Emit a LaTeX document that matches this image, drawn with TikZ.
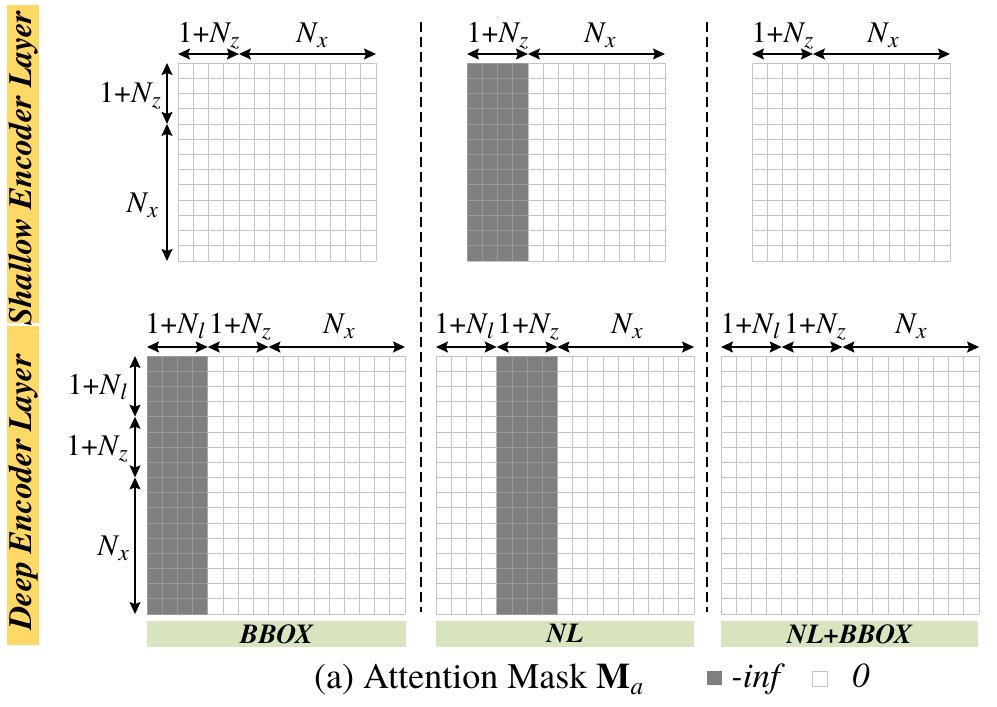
\documentclass[tikz,border=0pt]{standalone}
\usepackage{fontspec}
\setmainfont{texgyretermes}[Extension=.otf, UprightFont=*-regular, BoldFont=*-bold, ItalicFont=*-italic, BoldItalicFont=*-bolditalic]
\usetikzlibrary{arrows.meta}
\definecolor{ybar}{HTML}{FFD966}
\definecolor{gbar}{HTML}{D7E4BD}
\definecolor{darkc}{HTML}{7F7F7F}
\definecolor{gridc}{HTML}{C4C4C4}
\definecolor{gridd}{HTML}{9A9A9A}
\newcommand{\sbs}[1]{\raisebox{-5pt}{\fontsize{23}{25}\selectfont\textit{#1}}}
\newcommand{\NN}[1]{\textit{N}\kern-1pt\sbs{#1}}
\newcommand{\ON}[1]{1+\NN{#1}}
\tikzset{
  gridline/.style={draw=gridc, line width=0.8pt},
  darkline/.style={draw=gridd, line width=0.8pt},
  dimarrow/.style={line width=1.4pt, {Stealth[length=12pt,width=11pt,inset=2pt]}-{Stealth[length=12pt,width=11pt,inset=2pt]}},
  lab/.style={font=\fontsize{30}{34}\selectfont, inner sep=0pt},
  sidebar/.style={fill=ybar, draw=none},
  sidetext/.style={font=\fontsize{32.5}{36}\selectfont\bfseries\itshape, rotate=90, inner sep=0pt},
  condbar/.style={fill=gbar, draw=none},
  condtext/.style={font=\fontsize{27.5}{30}\selectfont\bfseries\itshape, inner sep=0pt},
  sepline/.style={line width=1.9pt, dash pattern=on 10pt off 5pt},
}
% #1 x0, #2 y0, #3 n, #4 first dark column, #5 number of dark columns, cell size in \cs
\newcommand{\maskgrid}[5]{%
  \ifnum#5>0
    \fill[darkc] ({#1+#4*\cs},#2) rectangle ({#1+(#4+#5)*\cs},{#2+#3*\cs});
  \fi
  \foreach \i in {0,...,#3}{%
    \draw[gridline] ({#1+\i*\cs},#2) -- ({#1+\i*\cs},{#2+#3*\cs});
    \draw[gridline] (#1,{#2+\i*\cs}) -- ({#1+#3*\cs},{#2+\i*\cs});
  }%
  \ifnum#5>0
    \begin{scope}
      \clip ({#1+#4*\cs},#2) rectangle ({#1+(#4+#5)*\cs},{#2+#3*\cs});
      \foreach \i in {0,...,#3}{%
        \draw[darkline] ({#1+\i*\cs},#2) -- ({#1+\i*\cs},{#2+#3*\cs});
        \draw[darkline] (#1,{#2+\i*\cs}) -- ({#1+#3*\cs},{#2+\i*\cs});
      }%
    \end{scope}
  \fi
}
\begin{document}
\begin{tikzpicture}[x=1pt,y=-1pt]
\useasboundingbox (0,0) rectangle (997,707);
\fill[white] (0,0) rectangle (997,707);

% side bars
\fill[sidebar] (7,5) rectangle (39,323);
\fill[sidebar] (7,326) rectangle (39,645);
\node[sidetext] (shallow) at (23,168) {Shallow Encoder Layer};
\node[sidetext] (deep) at (23,492) {Deep Encoder Layer};

% separators
\coordinate (s1t) at (421,22); \coordinate (s1b) at (421,612);
\coordinate (s2t) at (707,22); \coordinate (s2b) at (707,612);
\draw[sepline] (s1t) -- (s1b);
\draw[sepline] (s2t) -- (s2b);

% ---------- top row grids (13x13) ----------
\def\cs{15.23}
\maskgrid{178}{63}{13}{0}{0}
\maskgrid{467}{63}{13}{0}{4}
\maskgrid{752}{63}{13}{0}{0}

% top-left dimension arrows
\coordinate (a0) at (178,54); \coordinate (a1) at (238.92,54); \coordinate (a2) at (376,54);
\draw[dimarrow] (a0) -- (a1); \draw[dimarrow] (a1) -- (a2);
\node[lab,anchor=base] (tla) at (208.5,42) {\ON{z}};
\node[lab,anchor=base] (tlb) at (312,42) {\NN{x}};
\coordinate (v0) at (167,63); \coordinate (v1) at (167,123.92); \coordinate (v2) at (167,261);
\draw[dimarrow] (v0) -- (v1); \draw[dimarrow] (v1) -- (v2);
\node[lab,anchor=base east] (tlc) at (161,102) {\ON{z}};
\node[lab,anchor=base east] (tld) at (158,212) {\NN{x}};

% top-middle
\coordinate (b0) at (467,54); \coordinate (b1) at (527.92,54); \coordinate (b2) at (665,54);
\draw[dimarrow] (b0) -- (b1); \draw[dimarrow] (b1) -- (b2);
\node[lab,anchor=base] (tma) at (497.5,42) {\ON{z}};
\node[lab,anchor=base] (tmb) at (600,42) {\NN{x}};

% top-right
\coordinate (c0) at (752,54); \coordinate (c1) at (812.92,54); \coordinate (c2) at (950,54);
\draw[dimarrow] (c0) -- (c1); \draw[dimarrow] (c1) -- (c2);
\node[lab,anchor=base] (tra) at (782.5,42) {\ON{z}};
\node[lab,anchor=base] (trb) at (883,42) {\NN{x}};

% ---------- bottom row grids (17x17) ----------
\def\cs{15.18}
\maskgrid{147}{356}{17}{0}{4}
\maskgrid{436}{356}{17}{4}{4}
\maskgrid{721}{356}{17}{0}{0}

% bottom-left
\coordinate (d0) at (147,347); \coordinate (d1) at (207.72,347); \coordinate (d2) at (268.44,347); \coordinate (d3) at (405.06,347);
\draw[dimarrow] (d0) -- (d1); \draw[dimarrow] (d1) -- (d2); \draw[dimarrow] (d2) -- (d3);
\node[lab,anchor=base] (bla) at (175,333) {\ON{l}};
\node[lab,anchor=base] (blb) at (240,333) {\ON{z}};
\node[lab,anchor=base] (blc) at (339,333) {\NN{x}};
\coordinate (w0) at (135,356); \coordinate (w1) at (135,416.72); \coordinate (w2) at (135,477.44); \coordinate (w3) at (135,614.06);
\draw[dimarrow] (w0) -- (w1); \draw[dimarrow] (w1) -- (w2); \draw[dimarrow] (w2) -- (w3);
\node[lab,anchor=base east] (bld) at (127,394) {\ON{l}};
\node[lab,anchor=base east] (ble) at (128,455) {\ON{z}};
\node[lab,anchor=base east] (blf) at (129,555) {\NN{x}};

% bottom-middle
\coordinate (e0) at (436,347); \coordinate (e1) at (496.72,347); \coordinate (e2) at (557.44,347); \coordinate (e3) at (694.06,347);
\draw[dimarrow] (e0) -- (e1); \draw[dimarrow] (e1) -- (e2); \draw[dimarrow] (e2) -- (e3);
\node[lab,anchor=base] (bma) at (464,333) {\ON{l}};
\node[lab,anchor=base] (bmb) at (528,333) {\ON{z}};
\node[lab,anchor=base] (bmc) at (627,333) {\NN{x}};

% bottom-right
\coordinate (f0) at (721,347); \coordinate (f1) at (781.72,347); \coordinate (f2) at (842.44,347); \coordinate (f3) at (979.06,347);
\draw[dimarrow] (f0) -- (f1); \draw[dimarrow] (f1) -- (f2); \draw[dimarrow] (f2) -- (f3);
\node[lab,anchor=base] (bra) at (750,333) {\ON{l}};
\node[lab,anchor=base] (brb) at (815,333) {\ON{z}};
\node[lab,anchor=base] (brc) at (911,333) {\NN{x}};

% condition bars
\fill[condbar] (147,621) rectangle (406,647);
\fill[condbar] (436,621) rectangle (694,647);
\fill[condbar] (721,621) rectangle (978,647);
\node[condtext] (bbox) at (276.5,634) {BBOX};
\node[condtext] (nl) at (565,634) {NL};
\node[condtext] (nlbbox) at (849.5,634) {NL+BBOX};

% caption and legend
\node[font=\fontsize{36}{40}\selectfont, inner sep=0pt, anchor=base west] (cap) at (314,688) {(a) Attention Mask \textbf{M}\raisebox{-6pt}{\fontsize{25}{27}\selectfont\textit{a}}};
\fill[darkc] (707,671) rectangle (722,685);
\node[font=\fontsize{35}{38}\selectfont\itshape, inner sep=0pt, anchor=base west] (inf) at (731,687) {-inf};
\draw[gridc, line width=0.8pt, fill=white] (812,671) rectangle (827,686);
\node[font=\fontsize{35}{38}\selectfont\itshape, inner sep=0pt, anchor=base west] (zero) at (852,687) {0};
\end{tikzpicture}
\end{document}
